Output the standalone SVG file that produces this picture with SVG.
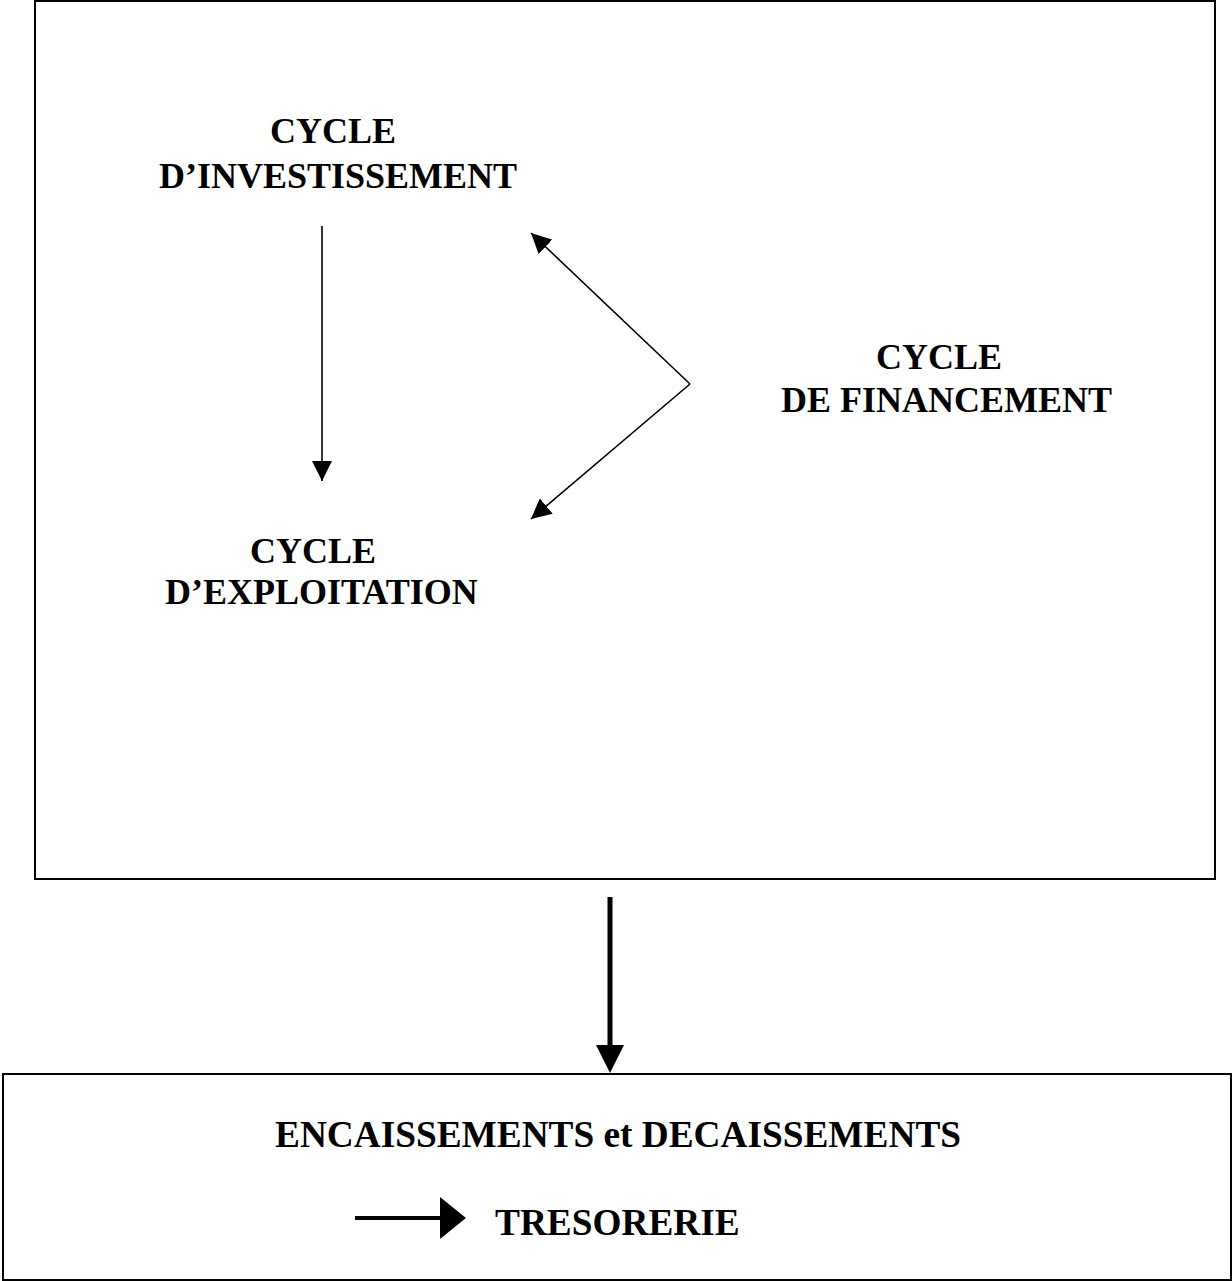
<svg xmlns="http://www.w3.org/2000/svg" width="1232" height="1281" viewBox="0 0 1232 1281">
<style>
.box{fill:#fff;stroke:#000;stroke-width:2}
.lbl{font-family:"Liberation Serif","Times New Roman",serif;font-weight:bold;font-size:36px;fill:#000}
.big{font-size:37.3px}
.thin{stroke:#000;stroke-width:1.6;fill:none}
</style>
<defs>
<marker id="ah" viewBox="0 0 20 20" refX="20" refY="10" markerWidth="20" markerHeight="20" markerUnits="userSpaceOnUse" orient="auto">
<path d="M0,0 L20,10 L0,20 Z" fill="#000"/>
</marker>
</defs>
<rect width="1232" height="1281" fill="#fff"/>
<g id="cycles-box">
<rect class="box" x="35" y="1" width="1180" height="878"/>
</g>
<g id="tresorerie-box">
<rect class="box" x="3" y="1074" width="1228" height="206"/>
</g>
<g id="node-investissement">
<text class="lbl" x="270" y="143">CYCLE</text>
<text class="lbl" x="159" y="188">D’INVESTISSEMENT</text>
</g>
<g id="node-exploitation">
<text class="lbl" x="250" y="563">CYCLE</text>
<text class="lbl" x="165" y="604">D’EXPLOITATION</text>
</g>
<g id="node-financement">
<text class="lbl" x="876" y="369">CYCLE</text>
<text class="lbl" x="781" y="412">DE FINANCEMENT</text>
</g>
<g id="node-tresorerie">
<text class="lbl big" x="275" y="1147">ENCAISSEMENTS et DECAISSEMENTS</text>
<path d="M355,1218 H441" stroke="#000" stroke-width="4"/>
<path d="M440,1197 L466,1218 L440,1239 Z" fill="#000"/>
<text class="lbl big" x="495" y="1235">TRESORERIE</text>
</g>
<g id="connectors">
<line class="thin" x1="322" y1="226" x2="322" y2="481" marker-end="url(#ah)"/>
<line class="thin" x1="690" y1="384" x2="531" y2="233" marker-end="url(#ah)"/>
<line class="thin" x1="690" y1="384" x2="531" y2="519" marker-end="url(#ah)"/>
<path d="M610,897 V1048" stroke="#000" stroke-width="5"/>
<path d="M596,1045 L624,1045 L610,1073 Z" fill="#000"/>
</g>
</svg>
